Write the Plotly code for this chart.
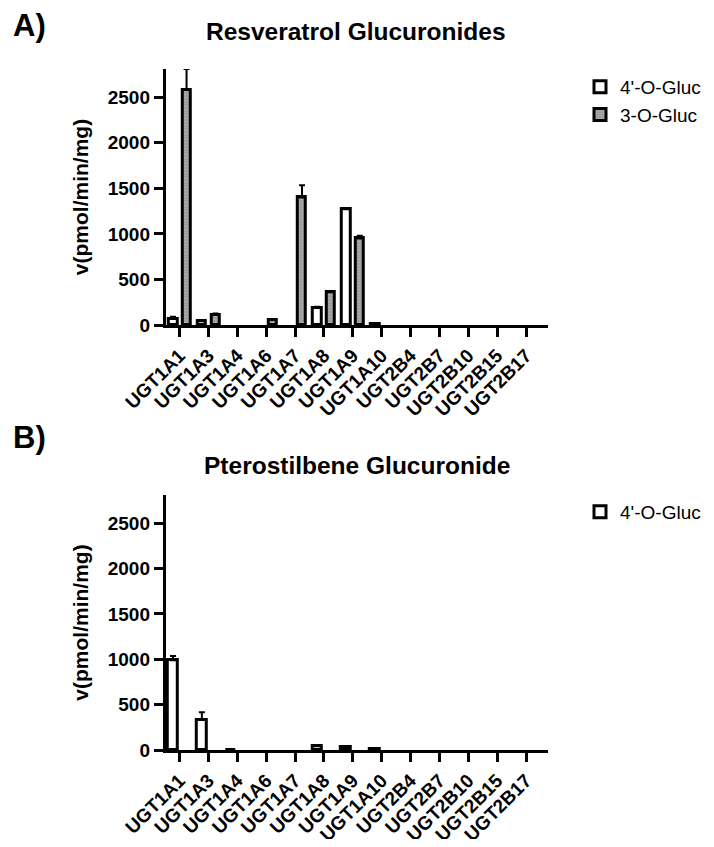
import plotly.graph_objects as go
from plotly.subplots import make_subplots

enzymes = ['UGT1A1', 'UGT1A3', 'UGT1A4', 'UGT1A6', 'UGT1A7', 'UGT1A8', 'UGT1A9',
           'UGT1A10', 'UGT2B4', 'UGT2B7', 'UGT2B10', 'UGT2B15', 'UGT2B17']

# Panel A: resveratrol (None = no activity detected)
res_4o = [70, 40, None, None, None, 190, 1270, 10, None, None, None, None, None]
res_4o_err = [20, 10, 0, 0, 0, 10, 15, 0, 0, 0, 0, 0, 0]
res_3o = [2580, 110, None, 55, 1400, 360, 950, None, None, None, None, None, None]
res_3o_err = [230, 15, 0, 10, 135, 10, 30, 0, 0, 0, 0, 0, 0]

# Panel B: pterostilbene
pter_4o = [990, 330, 5, None, None, 40, 30, 10, None, None, None, None, None]
pter_4o_err = [45, 85, 0, 0, 0, 10, 5, 0, 0, 0, 0, 0, 0]

FONT = 'Liberation Sans, Arial, sans-serif'
W, H = 698, 831  # page body adds an 8px margin


def px(x, y):
    # page pixel -> paper fraction
    return (x - 8) / W, 1 - (y - 8) / H


def err(vals):
    return dict(type='data', array=vals, arrayminus=[0] * len(vals),
                color='black', thickness=2, width=3)


fig = make_subplots(rows=2, cols=1)

fig.add_trace(go.Bar(x=enzymes, y=res_4o, name="4'-O-Gluc", error_y=err(res_4o_err),
                     offset=-0.38, width=0.3,
                     marker=dict(color='white', line=dict(color='black', width=3)),
                     legend='legend'), row=1, col=1)
fig.add_trace(go.Bar(x=enzymes, y=res_3o, name='3-O-Gluc', error_y=err(res_3o_err),
                     offset=0.1, width=0.28,
                     marker=dict(color='#999999', line=dict(color='black', width=3),
                                 pattern=dict(shape='.', fgcolor='#cfcfcf', size=3, solidity=0.3)),
                     legend='legend'), row=1, col=1)
fig.add_trace(go.Bar(x=enzymes, y=pter_4o, name="4'-O-Gluc", error_y=err(pter_4o_err),
                     offset=-0.4, width=0.34,
                     marker=dict(color='white', line=dict(color='black', width=3)),
                     legend='legend2'), row=2, col=1)

xdom = [px(166, 0)[0], px(549, 0)[0]]
xcommon = dict(type='category', range=[-0.48, 12.77], showline=True, linecolor='black',
               linewidth=3, ticks='outside', ticklen=9, tickwidth=3, tickcolor='black',
               tickangle=-45, tickfont=dict(family=FONT, size=19, color='black', weight='bold'),
               showgrid=False, zeroline=False, domain=xdom, automargin=False)
ycommon = dict(range=[0, 2810], tickvals=[0, 500, 1000, 1500, 2000, 2500], showline=True,
               linecolor='black', linewidth=3, ticks='outside', ticklen=9, tickwidth=3,
               tickcolor='black', tickfont=dict(family=FONT, size=19, color='black', weight='bold'),
               showgrid=False, zeroline=False, automargin=False,
               title=dict(text='v(pmol/min/mg)', standoff=14,
                          font=dict(family=FONT, size=21, color='black', weight='bold')))

fig.update_xaxes(**xcommon)
fig.update_yaxes(**ycommon)
fig.update_yaxes(domain=[px(0, 325)[1], px(0, 69)[1]], row=1, col=1)
fig.update_yaxes(domain=[px(0, 750)[1], px(0, 495)[1]], row=2, col=1)


def label(text, x, y, size, anchor='center'):
    fx, fy = px(x, y)
    return dict(text=text, x=fx, y=fy, xref='paper', yref='paper', xanchor=anchor,
                yanchor='middle', showarrow=False,
                font=dict(family=FONT, size=size, color='black', weight='bold'))


lx, ly = px(581, 68)
lx2, ly2 = px(581, 493)
fig.update_layout(
    width=W, height=H,
    margin=dict(l=0, r=0, t=0, b=0),
    plot_bgcolor='white', paper_bgcolor='white',
    bargap=0, barmode='overlay',
    legend=dict(x=lx, y=ly, xanchor='left', yanchor='top',
                font=dict(family=FONT, size=19, color='black'), tracegroupgap=0),
    legend2=dict(x=lx2, y=ly2, xanchor='left', yanchor='top',
                 font=dict(family=FONT, size=19, color='black')),
    annotations=[
        label('A)', 11, 26, 31, 'left'),
        label('Resveratrol Glucuronides', 356, 32, 24.5),
        label('B)', 11, 437, 31, 'left'),
        label('Pterostilbene Glucuronide', 357, 465, 24.5),
    ],
)

fig.write_html('out.html')
